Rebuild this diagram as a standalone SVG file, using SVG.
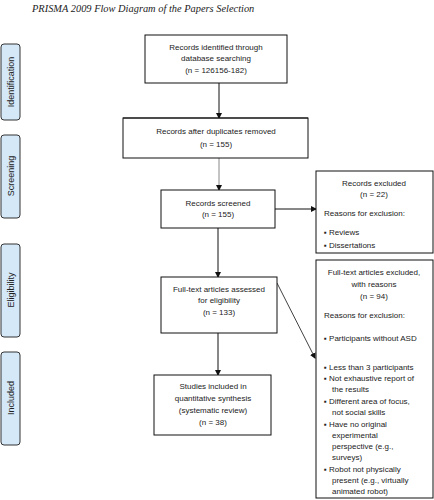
<svg xmlns="http://www.w3.org/2000/svg" width="434" height="500" viewBox="0 0 434 500">
<style>
.t{font-family:"Liberation Sans",Arial,sans-serif;font-size:8px;fill:#222}
.c{text-anchor:middle}
.box{fill:#fff;stroke:#111;stroke-width:1}
.tab{fill:#d4e8f8;stroke:#333;stroke-width:1}
.tl{font-family:"Liberation Sans",Arial,sans-serif;font-size:9px;fill:#222;text-anchor:middle}
.ln{stroke:#111;stroke-width:1;fill:none}
</style>
<defs>
<marker id="ah" markerWidth="6" markerHeight="6" refX="5" refY="3" orient="auto" markerUnits="userSpaceOnUse">
<path d="M0,0 L6,3 L0,6 z" fill="#111"/>
</marker>
</defs>
<rect width="434" height="500" fill="#fff"/>
<text x="32" y="12" font-family="Liberation Serif,Times New Roman,serif" font-style="italic" font-size="10.4" fill="#222">PRISMA 2009 Flow Diagram of the Papers Selection</text>

<g id="tab-identification"><rect class="tab" x="1" y="44" width="19" height="76" rx="3"/><text class="tl" transform="translate(14,82) rotate(-90)">Identification</text></g>
<g id="tab-screening"><rect class="tab" x="1" y="135" width="19" height="83" rx="3"/><text class="tl" transform="translate(14,176) rotate(-90)">Screening</text></g>
<g id="tab-eligibility"><rect class="tab" x="1" y="244" width="19" height="93" rx="3"/><text class="tl" transform="translate(14,290) rotate(-90)">Eligibility</text></g>
<g id="tab-included"><rect class="tab" x="1" y="352" width="19" height="93" rx="3"/><text class="tl" transform="translate(14,398) rotate(-90)">Included</text></g>

<g id="connectors">
<line class="ln" x1="219" y1="83" x2="219" y2="118" marker-end="url(#ah)"/>
<line x1="219" y1="158" x2="219" y2="190" stroke="#888" stroke-width="1" marker-end="url(#ah)"/>
<line class="ln" x1="275" y1="209" x2="316" y2="209" marker-end="url(#ah)"/>
<line class="ln" x1="218" y1="228" x2="218" y2="277" marker-end="url(#ah)"/>
<line class="ln" x1="218" y1="333" x2="218" y2="375" marker-end="url(#ah)"/>
<line x1="277" y1="283" x2="315" y2="358" stroke="#111" stroke-width="0.8" marker-end="url(#ah)"/>
</g>

<g id="n1"><rect class="box" x="145" y="35" width="142" height="48"/>
<text class="t c" x="216" y="50">Records identified through</text>
<text class="t c" x="216" y="61">database searching</text>
<text class="t c" x="216" y="73">(n = 126156-182)</text></g>

<g id="n2"><rect class="box" x="123" y="118" width="185" height="40" stroke="#999"/>
<line x1="123" y1="118" x2="308" y2="118" stroke="#111"/>
<text class="t c" x="216" y="134">Records after duplicates removed</text>
<text class="t c" x="216" y="147">(n = 155)</text></g>

<g id="n3"><rect class="box" x="161" y="190" width="114" height="38"/>
<text class="t c" x="218" y="206">Records screened</text>
<text class="t c" x="218" y="217">(n = 155)</text></g>

<g id="n4"><rect class="box" x="316" y="171" width="117" height="82"/>
<text class="t c" x="374" y="186">Records excluded</text>
<text class="t c" x="374" y="197">(n = 22)</text>
<text class="t" x="324" y="216">Reasons for exclusion:</text>
<text class="t" x="324" y="235">▪  Reviews</text>
<text class="t" x="324" y="248">▪  Dissertations</text></g>

<g id="n5"><rect class="box" x="161" y="277" width="116" height="56"/>
<text class="t c" x="219" y="292">Full-text articles assessed</text>
<text class="t c" x="219" y="303">for eligibility</text>
<text class="t c" x="219" y="315">(n = 133)</text></g>

<g id="n6"><rect class="box" x="154" y="375" width="117" height="60" stroke="#888"/>
<text class="t c" x="213" y="389">Studies included in</text>
<text class="t c" x="213" y="401">quantitative synthesis</text>
<text class="t c" x="213" y="413">(systematic review)</text>
<text class="t c" x="213" y="425">(n = 38)</text></g>

<g id="n7"><rect class="box" x="316" y="260" width="117" height="238"/>
<text class="t c" x="374" y="275">Full-text articles excluded,</text>
<text class="t c" x="374" y="287">with reasons</text>
<text class="t c" x="374" y="299">(n = 94)</text>
<text class="t" x="324" y="318">Reasons for exclusion:</text>
<text class="t" x="324" y="341">▪  Participants without ASD</text>
<text class="t" x="324" y="370">▪  Less than 3 participants</text>
<text class="t" x="324" y="381">▪  Not exhaustive report of</text>
<text class="t" x="332" y="392">the results</text>
<text class="t" x="324" y="404">▪  Different area of focus,</text>
<text class="t" x="332" y="415">not social skills</text>
<text class="t" x="324" y="427">▪  Have no original</text>
<text class="t" x="332" y="438">experimental</text>
<text class="t" x="332" y="449">perspective (e.g.,</text>
<text class="t" x="332" y="460">surveys)</text>
<text class="t" x="324" y="472">▪  Robot not physically</text>
<text class="t" x="332" y="483">present (e.g., virtually</text>
<text class="t" x="332" y="494">animated robot)</text></g>
</svg>
